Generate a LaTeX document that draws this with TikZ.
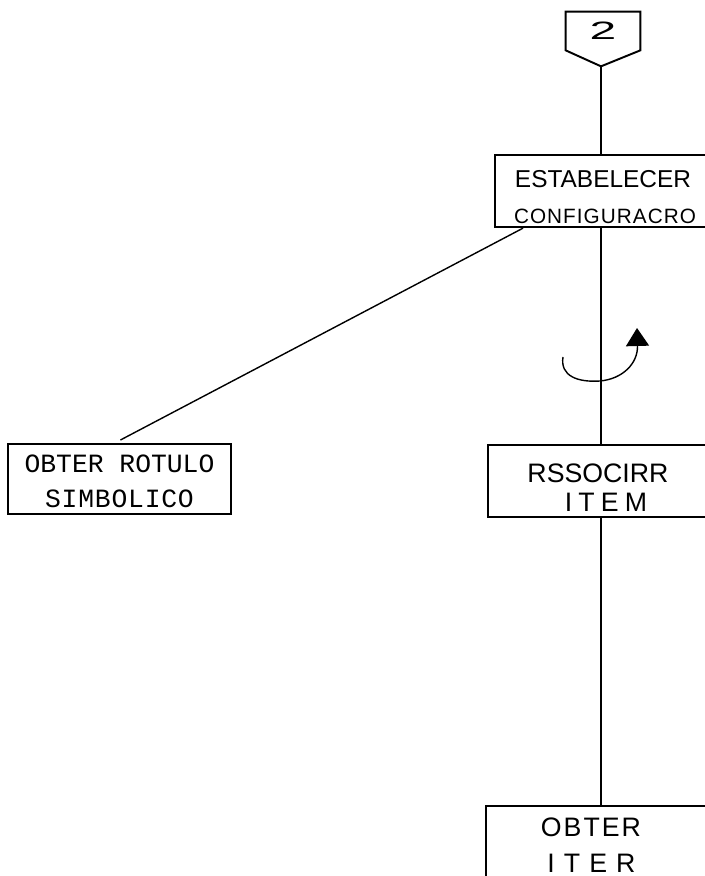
\documentclass[tikz,border=0pt]{standalone}
\usepackage{fontspec}
\setmainfont{Liberation Sans}
\newfontfamily\plotfont{Liberation Mono}
\usetikzlibrary{arrows.meta,calc,positioning}
\newcommand{\boxrow}[2]{\makebox[#1][c]{#2}}
\newcommand{\spaced}[2]{{\addfontfeature{LetterSpace=#1}#2}}

\begin{document}
\begin{tikzpicture}[
  x=1cm,y=1cm,>=Latex,
  link/.style={draw=black,line width=0.65pt},
  frame/.style={draw=black,line width=1.1pt},
  openbox/.style={frame,anchor=north west,inner xsep=0pt,inner ysep=0.06cm,
    text width=5.2cm,align=left},
  plotbox/.style={frame,anchor=north west,inner xsep=0pt,inner ysep=0.06cm,
    minimum width=4.46cm,align=center,
    font=\plotfont\fontsize{15}{19.9}\selectfont},
  turn/.style={-{Triangle[length=0.36cm,width=0.46cm]},line width=0.8pt}
]
\useasboundingbox (0,0) rectangle (14.08,17.52);

% off-page connector 2 feeds the main column; boxes on the right run off the sheet
\node[minimum width=1.48cm,minimum height=0.76cm,inner sep=0pt] (conn) at (12.06,16.90)
  {\raisebox{-0.1cm}{\scalebox{2.1}[1.1]{\fontsize{13}{13}\selectfont 2}}};
\coordinate (conntip) at ($(conn.south)+(-0.04,-0.32)$);
\draw[frame] (conn.south west) -- (conn.north west) -- (conn.north east)
  -- (conn.south east) -- (conntip) -- cycle;

\node[openbox,font=\fontsize{13.9}{20.5}\selectfont] (estab) at (9.88,14.44)
  {\noindent\rule{0pt}{0.6cm}\boxrow{4.32cm}{ESTABELECER}\\
   \boxrow{4.40cm}{\fontsize{11.8}{12}\selectfont\spaced{5}{CONFIGURACRO}}};

\node[openbox,font=\fontsize{15.2}{16.5}\selectfont] (assoc) at (9.74,8.64)
  {\noindent\rule{0pt}{0.7cm}\boxrow{4.4cm}{RSSOCIRR}\\
   \boxrow{4.72cm}{\spaced{23}{ITEM}}\rule[-0.04cm]{0pt}{0.04cm}};

\node[openbox,font=\fontsize{15.2}{20.5}\selectfont] (obter) at (9.70,1.42)
  {\noindent\rule{0pt}{0.56cm}\boxrow{4.2cm}{\spaced{7.5}{OBTER}}\\
   \boxrow{4.22cm}{\spaced{34}{ITER}}\rule[-0.3cm]{0pt}{0.3cm}};

\node[plotbox] (rotulo) at (0.14,8.66)
  {\rule{0pt}{0.52cm}OBTER ROTULO\\
   \spaced{3}{SIMBOLICO}\rule[-0.06cm]{0pt}{0.06cm}};

\draw[link] (conntip) -- (conntip |- estab.north);
\draw[link] (conntip |- estab.south) -- (conntip |- assoc.north);
\draw[link] (conntip |- assoc.south) -- (conntip |- obter.north);
\draw[link,line width=0.8pt] ($(estab.south west)+(0.58,0)$)
  -- ($(rotulo.north)+(0.02,0.06)$);

% iteration mark on the main line
\coordinate (loopa) at (11.26,10.38);
\coordinate (loopb) at (12.00,9.90);
\coordinate (loopc) at (12.74,10.96);
\draw[turn] (loopa) .. controls (11.20,10.00) and (11.55,9.87) .. (loopb)
  .. controls (12.45,9.94) and (12.76,10.25) .. (loopc);

\end{tikzpicture}
\end{document}
